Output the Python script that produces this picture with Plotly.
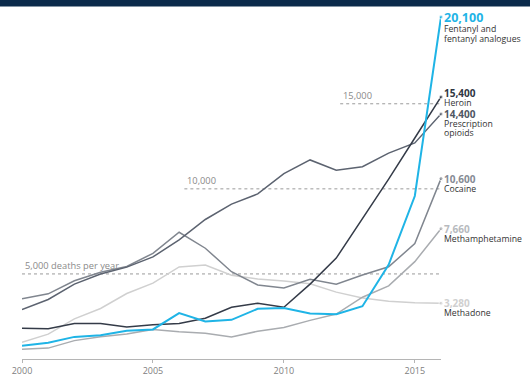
import plotly.graph_objects as go

years = list(range(2000, 2017))

fentanyl = [780, 960, 1300, 1400, 1660, 1740, 2700, 2200, 2300, 2950, 3000, 2670, 2630, 3100, 5540, 9580, 20100]
heroin = [1800, 1780, 2090, 2080, 1880, 2010, 2090, 2400, 3040, 3280, 3040, 4400, 5930, 8260, 10570, 12990, 15400]
prescription = [2900, 3500, 4400, 5000, 5400, 6000, 7000, 8200, 9100, 9700, 10900, 11700, 11100, 11300, 12100, 12700, 14400]
cocaine = [3540, 3830, 4600, 5100, 5440, 6210, 7450, 6510, 5130, 4350, 4180, 4680, 4400, 4940, 5420, 6780, 10600]
meth = [580, 640, 1080, 1310, 1470, 1740, 1600, 1510, 1300, 1630, 1850, 2270, 2640, 3630, 4300, 5720, 7660]
methadone = [990, 1460, 2360, 2970, 3850, 4460, 5410, 5520, 4920, 4700, 4580, 4420, 3930, 3590, 3400, 3300, 3280]

value_labels = ["20,100", "15,400", "14,400", "10,600", "7,660", "3,280"]
names = [["Fentanyl and", "fentanyl analogues"], ["Heroin"], ["Prescription", "opioids"],
         ["Cocaine"], ["Methamphetamine"], ["Methadone"]]

ref_values = [5000, 10000, 15000]
ref_labels = ["5,000 deaths per year", "10,000", "15,000"]
ref_starts = [2000, 2006.2, 2012.15]

tick_years = [2000, 2005, 2010, 2015]

FONT = "Open Sans"

series = [
    (fentanyl, "#1fb4e6", 2.0, "#1fb4e6", 12.5, 0, 12),
    (heroin, "#343b48", 1.5, "#2f3642", 10, 4, 10),
    (prescription, "#5c6370", 1.5, "#4f5663", 10, 0, 10),
    (cocaine, "#80868f", 1.5, "#868b94", 10, 0, 10.5),
    (meth, "#a9acb0", 1.5, "#b7babe", 10, 0, 10),
    (methadone, "#d0d0d0", 1.5, "#d0d0d0", 10, 0, 9.5),
]

fig = go.Figure()

order = [5, 4, 3, 2, 1, 0]
for i in order:
    vals, col, w, *_ = series[i]
    fig.add_trace(go.Scatter(
        x=years, y=vals, mode="lines+markers",
        line=dict(color=col, width=w),
        marker=dict(size=[0] * (len(years) - 1) + [4], color=col),
        cliponaxis=False, hoverinfo="skip", showlegend=False,
    ))

annotations = []
shapes = []

for (vals, col, w, vcol, vsize, vshift, noff), vlab, nm in zip(series, value_labels, names):
    annotations.append(dict(
        x=years[-1], y=vals[-1], xref="x", yref="y", text="<b>" + vlab + "</b>",
        showarrow=False, xanchor="left", yanchor="middle", xshift=1, yshift=vshift,
        font=dict(family=FONT, size=vsize, color=vcol),
    ))
    for k, line in enumerate(nm):
        annotations.append(dict(
            x=years[-1], y=vals[-1], xref="x", yref="y", text=line,
            showarrow=False, xanchor="left", yanchor="middle", xshift=1,
            yshift=vshift - noff - 9.5 * k,
            font=dict(family=FONT, size=8.7, color="#333333"),
        ))

for rv, rl, rs in zip(ref_values, ref_labels, ref_starts):
    shapes.append(dict(type="line", xref="x", yref="y", x0=rs, x1=2016, y0=rv, y1=rv,
                       line=dict(color="#9a9a9a", width=1, dash="dot"), layer="below"))
    annotations.append(dict(
        x=rs, y=rv, xref="x", yref="y", text=rl, showarrow=False,
        xanchor="left", yanchor="bottom", xshift=1, yshift=0,
        font=dict(family=FONT, size=9.3, color="#8a8a8a"),
    ))

# top navy band
shapes.append(dict(type="rect", xref="paper", yref="paper", x0=-0.06, x1=1.22,
                   y0=1 + 10.5 / 342, y1=1 + 20 / 342, fillcolor="#0b2a4b",
                   line=dict(width=0), layer="above"))

fig.update_layout(
    width=530, height=378,
    margin=dict(l=22, r=89, t=17, b=19, autoexpand=False),
    paper_bgcolor="white", plot_bgcolor="white",
    font=dict(family=FONT),
    showlegend=False,
    xaxis=dict(range=[2000, 2016], tickvals=tick_years, ticktext=[str(t) for t in tick_years],
               showgrid=False, zeroline=False, showline=True, linecolor="#b5b5b5", linewidth=1,
               ticks="outside", ticklen=3, tickcolor="#b5b5b5", automargin=False,
               tickfont=dict(family=FONT, size=9, color="#808080"), fixedrange=True),
    yaxis=dict(range=[0, 20100], showgrid=False, zeroline=False, showline=False, automargin=False,
               showticklabels=False, ticks="", fixedrange=True),
    shapes=shapes, annotations=annotations,
)

fig.write_html("out.html", config={"displayModeBar": False},
               post_script="document.body.style.margin='0';document.body.style.overflow='hidden';")
